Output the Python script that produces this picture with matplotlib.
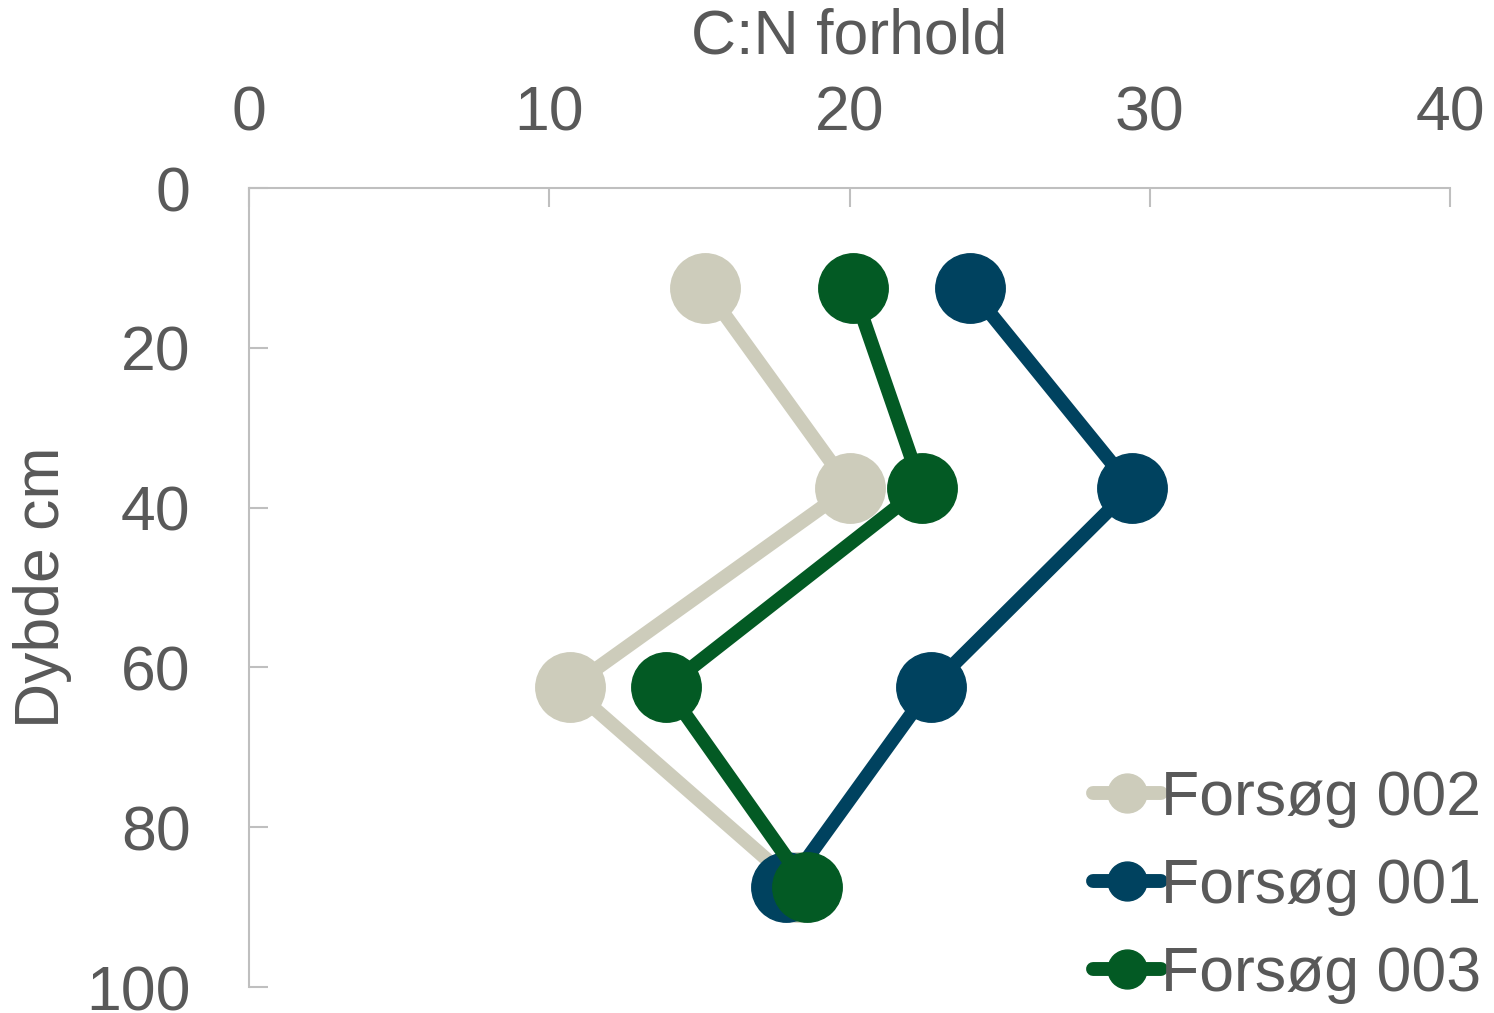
import matplotlib
matplotlib.use('Agg')
import matplotlib.pyplot as plt

plt.rcParams['font.family'] = ['Liberation Sans', 'DejaVu Sans']

# dybde (cm) og C:N forhold
depth = [12.5, 37.5, 62.5, 87.5]
cn_002 = [15.2, 20.0, 10.7, 18.3]
cn_001 = [24.0, 29.4, 22.7, 17.9]
cn_003 = [20.1, 22.4, 13.9, 18.6]

series = [('Forsøg 002', cn_002, '#CDCCBB'),
          ('Forsøg 001', cn_001, '#00425F'),
          ('Forsøg 003', cn_003, '#035A24')]

txt = '#595959'
grid_c = '#BFBFBF'
fs = 45

fig = plt.figure(figsize=(14.94, 10.13), dpi=100)
ax = fig.add_axes([249/1494, 1 - 987/1013, (1450 - 249)/1494, (987 - 188)/1013])

for name, vals, col in series:
    ax.plot(vals, depth, '-o', color=col, lw=10, ms=50, label=name,
            solid_capstyle='round', solid_joinstyle='round')

ax.set_xlim(0, 40)
ax.set_ylim(100, 0)
ax.set_xticks([0, 10, 20, 30, 40])
ax.set_yticks([0, 20, 40, 60, 80, 100])

ax.xaxis.tick_top()
ax.xaxis.set_label_position('top')
ax.set_xlabel('C:N forhold', fontsize=fs, color=txt, labelpad=22)
ax.set_ylabel('Dybde cm', fontsize=fs, color=txt, labelpad=10)

for s in ['right', 'bottom']:
    ax.spines[s].set_visible(False)
for s in ['top', 'left']:
    ax.spines[s].set_color(grid_c)
    ax.spines[s].set_linewidth(1.5)

ax.tick_params(axis='both', direction='in', length=14, width=1.5, color=grid_c,
               labelsize=fs, labelcolor=txt)
ax.tick_params(axis='x', pad=32)
ax.tick_params(axis='y', pad=42)

leg = ax.legend(loc='lower right', frameon=False, fontsize=fs, labelcolor=txt,
                handlelength=1.1, handletextpad=0.0, markerscale=0.56,
                borderaxespad=0.0, labelspacing=0.46, bbox_to_anchor=(1.047, -0.052))

fig.savefig('out.png', dpi=100)
